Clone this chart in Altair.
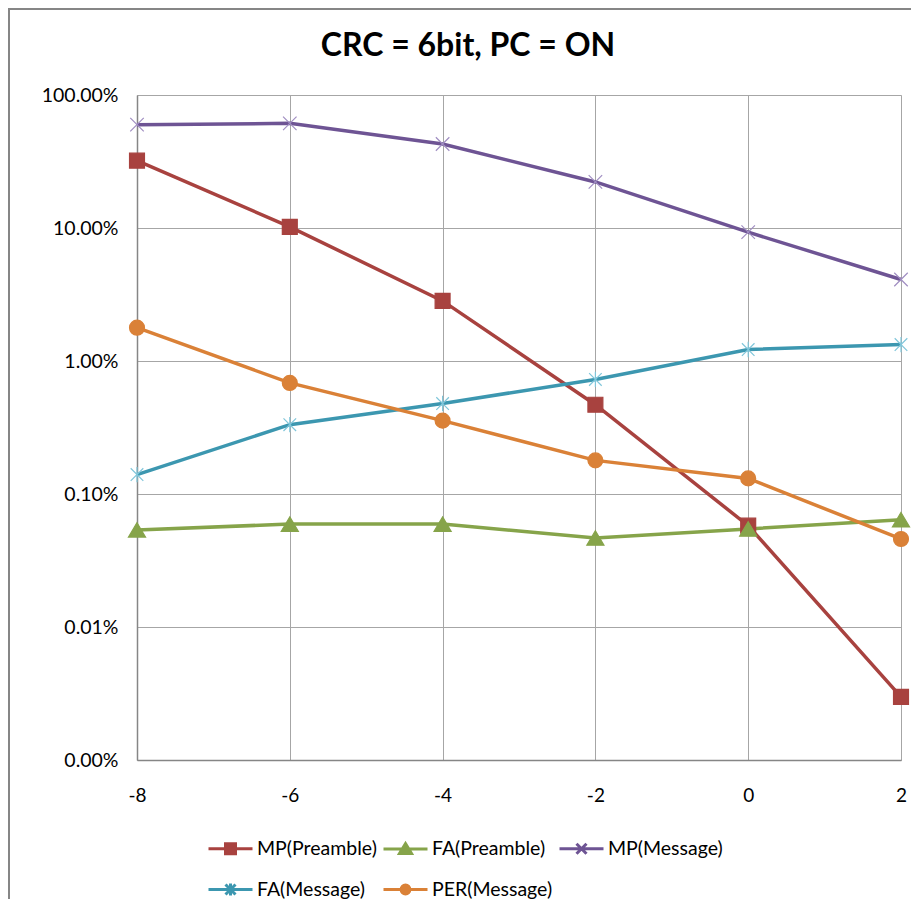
import altair as alt
import pandas as pd

# ---- data ----
x_vals = [-8, -6, -4, -2, 0, 2]
series_names = ["MP(Preamble)", "FA(Preamble)", "MP(Message)", "FA(Message)", "PER(Message)"]
mp_preamble = [0.321, 0.102, 0.0283, 0.00469, 0.000578, 0.0000298]
fa_preamble = [0.000537, 0.000594, 0.000594, 0.000467, 0.000546, 0.000641]
mp_message = [0.598, 0.612, 0.428, 0.222, 0.093, 0.041]
fa_message = [0.00140, 0.00332, 0.00479, 0.00727, 0.0122, 0.0133]
per_message = [0.0178, 0.00684, 0.00356, 0.00179, 0.00131, 0.000459]
y_ticks = [1, 0.1, 0.01, 0.001, 0.0001, 0.00001]
x_ticks = [-8, -6, -4, -2, 0, 2]

line_colors = ["#A8423F", "#86A44A", "#6E5494", "#3C97B0", "#DA8137"]
marker_colors = ["#A8423F", "#86A44A", "#A08EC2", "#80C6DA", "#DA8137"]

# marker shapes (unit square -1..1)
marker_paths = [
    "M-0.83,-0.83H0.83V0.83H-0.83Z",
    "M0,-0.8L0.95,0.8L-0.95,0.8Z",
    "M-0.75,-0.75L0.75,0.75M-0.75,0.75L0.75,-0.75",
    "M-0.7,-0.7L0.7,0.7M-0.7,0.7L0.7,-0.7M0,-0.85V0.85",
    "M-0.83,0A0.83,0.83 0 1,0 0.83,0A0.83,0.83 0 1,0 -0.83,0Z",
]
# legend symbols: line segment + marker (nested outlines so a stroke-only symbol looks solid)
legend_paths = [
    "M-1.1,0H1.1M-0.25,-0.25H0.25V0.25H-0.25ZM-0.16,-0.16H0.16V0.16H-0.16ZM-0.08,-0.08H0.08V0.08H-0.08Z",
    "M-1.1,0H1.1M0,-0.27L0.3,0.22L-0.3,0.22ZM0,-0.1L0.14,0.14L-0.14,0.14ZM0,0.03L0.03,0.09L-0.03,0.09Z",
    "M-1.1,0H1.1M-0.25,-0.25L0.25,0.25M-0.25,0.25L0.25,-0.25",
    "M-1.1,0H1.1M-0.25,-0.25L0.25,0.25M-0.25,0.25L0.25,-0.25M0,-0.3V0.3",
    "M-1.1,0H1.1M-0.22,0A0.22,0.22 0 1,0 0.22,0A0.22,0.22 0 1,0 -0.22,0ZM-0.13,0A0.13,0.13 0 1,0 0.13,0A0.13,0.13 0 1,0 -0.13,0ZM-0.05,0A0.05,0.05 0 1,0 0.05,0A0.05,0.05 0 1,0 -0.05,0Z",
]

series_values = [mp_preamble, fa_preamble, mp_message, fa_message, per_message]
rows = []
for name, vals in zip(series_names, series_values):
    for xv, yv in zip(x_vals, vals):
        rows.append({"snr": xv, "rate": yv, "series": name})
df = pd.DataFrame(rows)

FONT = "Lato"
W, H = 764, 665


def make_legend():
    return alt.Legend(
        title=None,
        orient="none",
        legendX=72,
        legendY=732,
        direction="horizontal",
        columns=3,
        labelFont=FONT,
        labelFontSize=19.5,
        labelColor="#000000",
        labelOffset=5,
        columnPadding=0,
        rowPadding=8,
        symbolSize=1600,
        symbolStrokeWidth=3,
    )


x_enc = alt.X(
    "snr:Q",
    scale=alt.Scale(domain=[-8, 2], nice=False, zero=False),
    axis=alt.Axis(
        values=x_ticks, title=None, labelExpr="'' + datum.value", ticks=False, labelPadding=26,
        labelFlush=False,
        labelFont=FONT, labelFontSize=19, labelColor="#000000",
        domainColor="#868686", domainWidth=1.5,
        grid=True, gridColor="#A6A6A6", gridWidth=1,
    ),
)
y_enc = alt.Y(
    "rate:Q",
    scale=alt.Scale(type="log", domain=[0.00001, 1], nice=False),
    axis=alt.Axis(
        values=y_ticks, title=None, format=".2%", ticks=False, labelPadding=19,
        labelFlush=False,
        labelFont=FONT, labelFontSize=19.5, labelColor="#000000",
        domainColor="#868686", domainWidth=1.5,
        grid=True, gridColor="#A6A6A6", gridWidth=1,
    ),
)

base = alt.Chart(df)
lines = base.mark_line(strokeWidth=3.5, interpolate="linear").encode(
    x=x_enc,
    y=y_enc,
    color=alt.Color("series:N", scale=alt.Scale(domain=series_names, range=line_colors), legend=None),
    detail="series:N",
)
points = base.mark_point(filled=True, size=324, strokeWidth=1.2, opacity=1).encode(
    x=alt.X("snr:Q"),
    y=alt.Y("rate:Q"),
    shape=alt.Shape("series:N", scale=alt.Scale(domain=series_names, range=marker_paths), legend=None),
    fill=alt.Fill("series:N", scale=alt.Scale(domain=series_names, range=marker_colors), legend=None),
    stroke=alt.Stroke("series:N", scale=alt.Scale(domain=series_names, range=marker_colors), legend=None),
)
legend_layer = base.transform_filter("false").mark_point(
    filled=False, size=1600, strokeWidth=3, opacity=1
).encode(
    x=alt.X("snr:Q"),
    y=alt.Y("rate:Q"),
    color=alt.Color("series:N", scale=alt.Scale(domain=series_names, range=line_colors), legend=make_legend()),
    shape=alt.Shape("series:N", scale=alt.Scale(domain=series_names, range=legend_paths), legend=make_legend()),
)

# outer chart frame: only the left and top edges are inside the picture
frame_df = pd.DataFrame({"k": [0]})
frame_left = alt.Chart(frame_df).mark_rule(stroke="#868686", strokeWidth=2).encode(
    x=alt.value(-128), y=alt.value(-87), y2=alt.value(H + 160)
)
frame_top = alt.Chart(frame_df).mark_rule(stroke="#868686", strokeWidth=2).encode(
    x=alt.value(-129), x2=alt.value(W + 40), y=alt.value(-86)
)

chart = alt.layer(lines, points, legend_layer, frame_left, frame_top).resolve_scale(
    color="independent", shape="independent"
).properties(
    width=W,
    height=H,
    title=alt.TitleParams(
        "CRC = 6bit, PC = ON", font=FONT, fontSize=32, fontWeight="bold", color="#000000",
        anchor="middle", frame="group", dx=-51, offset=-81, baseline="alphabetic",
    ),
    autosize=alt.AutoSizeParams(type="none"),
    padding={"left": 129, "top": 87, "right": 10, "bottom": 139},
).configure_view(stroke=None).configure(background="#FFFFFF")

chart.save("out.html", embed_options={"renderer": "svg", "actions": False})
